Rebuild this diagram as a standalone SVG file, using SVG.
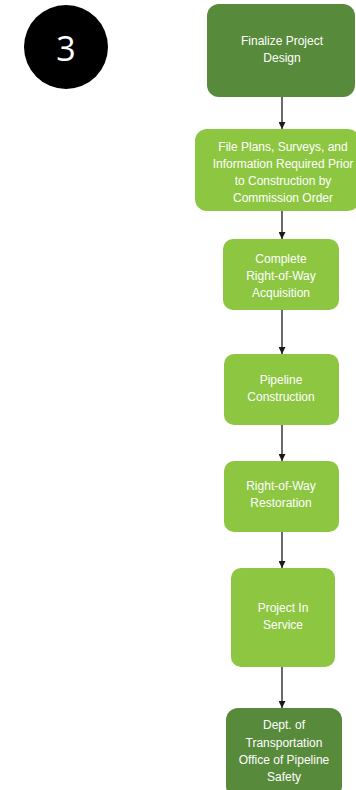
<svg xmlns="http://www.w3.org/2000/svg" width="356" height="790" viewBox="0 0 356 790">
<defs>
<style>
.dark{fill:#588a3b;}
.light{fill:#8dc641;}
.t{font-family:"Liberation Sans",Arial,sans-serif;font-size:12px;fill:#ffffff;text-anchor:middle;}
.c{stroke:#1a1a1a;stroke-width:1.3;fill:none;marker-end:url(#ah);}
</style>
<marker id="ah" viewBox="0 0 10 10" refX="10" refY="5" markerUnits="userSpaceOnUse" markerWidth="9" markerHeight="7" orient="auto">
<path d="M0,0 L10,5 L0,10 z" fill="#1a1a1a"/>
</marker>
</defs>
<rect width="356" height="790" fill="#ffffff"/>
<g id="badge">
<circle cx="66" cy="47" r="42" fill="#000000"/>
<text x="66" y="61" font-family="'Open Sans','Liberation Sans',Arial,sans-serif" font-size="34" fill="#ffffff" text-anchor="middle">3</text>
</g>
<g id="connectors">
<line class="c" x1="282" y1="97" x2="282" y2="129"/>
<line class="c" x1="282" y1="211" x2="282" y2="239"/>
<line class="c" x1="282" y1="310" x2="282" y2="354"/>
<line class="c" x1="282" y1="425" x2="282" y2="461"/>
<line class="c" x1="282" y1="532" x2="282" y2="568"/>
<line class="c" x1="282" y1="667" x2="282" y2="708"/>
</g>
<g id="n1">
<rect class="dark" x="207" y="4" width="148" height="93" rx="12"/>
<text class="t" x="282" y="45">Finalize Project</text>
<text class="t" x="282" y="62">Design</text>
</g>
<g id="n2">
<rect class="light" x="195" y="129" width="165" height="82" rx="12"/>
<text class="t" x="283" y="151">File Plans, Surveys, and</text>
<text class="t" x="283" y="168">Information Required Prior</text>
<text class="t" x="283" y="185">to Construction by</text>
<text class="t" x="283" y="202">Commission Order</text>
</g>
<g id="n3">
<rect class="light" x="223" y="239" width="116" height="71" rx="10"/>
<text class="t" x="281" y="263">Complete</text>
<text class="t" x="281" y="280">Right-of-Way</text>
<text class="t" x="281" y="297">Acquisition</text>
</g>
<g id="n4">
<rect class="light" x="224" y="354" width="115" height="71" rx="10"/>
<text class="t" x="281" y="384">Pipeline</text>
<text class="t" x="281" y="401">Construction</text>
</g>
<g id="n5">
<rect class="light" x="224" y="461" width="115" height="71" rx="10"/>
<text class="t" x="281" y="490">Right-of-Way</text>
<text class="t" x="281" y="507">Restoration</text>
</g>
<g id="n6">
<rect class="light" x="231" y="568" width="104" height="99" rx="10"/>
<text class="t" x="283" y="612">Project In</text>
<text class="t" x="283" y="629">Service</text>
</g>
<g id="n7">
<rect class="dark" x="226" y="708" width="116" height="90" rx="12"/>
<text class="t" x="284" y="729">Dept. of</text>
<text class="t" x="284" y="747">Transportation</text>
<text class="t" x="284" y="764">Office of Pipeline</text>
<text class="t" x="284" y="781">Safety</text>
</g>
</svg>
